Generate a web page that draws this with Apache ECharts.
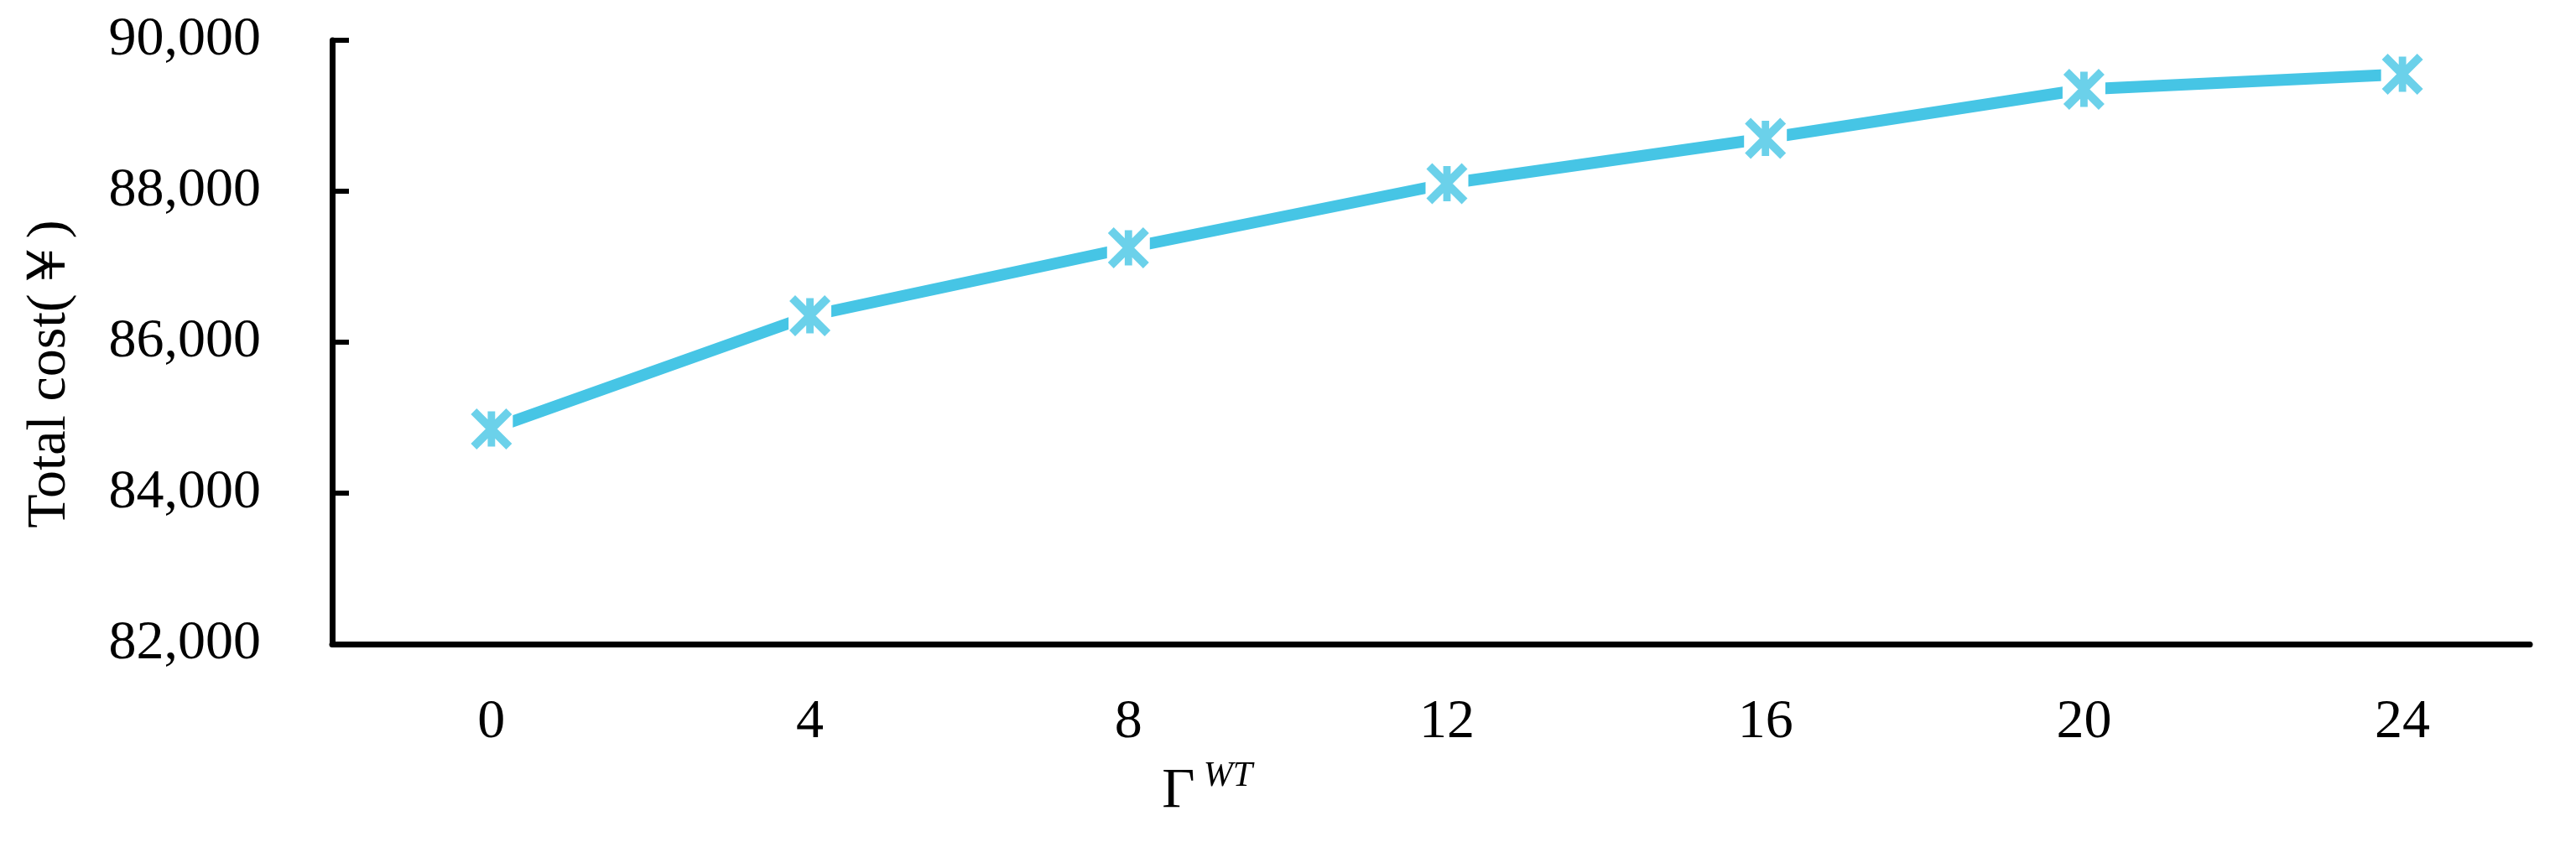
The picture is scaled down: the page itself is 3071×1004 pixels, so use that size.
<!DOCTYPE html>
<html>
<head>
<meta charset="utf-8">
<script src="https://cdn.jsdelivr.net/npm/echarts@6/dist/echarts.min.js"></script>
<style>
  html, body { margin: 0; padding: 0; background: #fff; }
  #chart { width: 3071px; height: 1004px; }
</style>
</head>
<body>
<div id="chart"></div>
<script>
// robustness level of wind output (x) and total cost (y)
const gammaLevels = [0, 4, 8, 12, 16, 20, 24];
const totalCost = [84850, 86350, 87250, 88100, 88700, 89350, 89550];
const yTicks = { min: 82000, max: 90000, step: 2000 };

const lineColor = "#46C5E5";
const serif = "'Liberation Serif', 'Times New Roman', serif";
// asterisk marker: vertical bar + two diagonals
const starPath =
  "path://M41,7L59,7L59,93L41,93Z" +
  "M14.14,0L100,85.86L85.86,100L0,14.14Z" +
  "M85.86,0L100,14.14L14.14,100L0,85.86Z";

const points = gammaLevels.map((g, i) => [g, totalCost[i]]);

let myChart = echarts.init(document.getElementById("chart"));

const option = {
  animation: false,
  backgroundColor: "#fff",
  grid: {
    left: 396,
    right: 55,
    top: 48,
    bottom: 236,
  },
  xAxis: {
    type: "value",
    min: -2,
    max: 25.6,
    splitLine: { show: false },
    axisLine: { show: true, onZero: false, lineStyle: { color: "#000", width: 7 } },
    axisTick: { show: false },
    axisLabel: {
      customValues: gammaLevels,
      margin: 61,
      color: "#000",
      fontFamily: serif,
      fontSize: 66,
    },
  },
  yAxis: {
    type: "value",
    min: yTicks.min,
    max: yTicks.max,
    interval: yTicks.step,
    splitLine: { show: false },
    axisLine: { show: true, onZero: false, lineStyle: { color: "#000", width: 7 } },
    axisTick: {
      show: true,
      inside: true,
      length: 20,
      lineStyle: { color: "#000", width: 6 },
    },
    axisLabel: {
      margin: 85,
      color: "#000",
      fontFamily: serif,
      fontSize: 66,
      formatter: function (v) {
        return v.toLocaleString("en-US");
      },
    },
  },
  graphic: [
    {
      type: "text",
      x: 60,
      y: 446,
      rotation: Math.PI / 2,
      style: {
        text: "Total cost(￥)",
        fill: "#000",
        font: "66px " + serif,
        textAlign: "center",
        textVerticalAlign: "middle",
        align: "center",
        verticalAlign: "middle",
      },
    },
    {
      type: "text",
      x: 1405,
      y: 944,
      style: {
        text: "Γ",
        fill: "#000",
        font: "68px " + serif,
        textAlign: "center",
        textVerticalAlign: "middle",
        align: "center",
        verticalAlign: "middle",
      },
    },
    {
      type: "text",
      x: 1464,
      y: 926,
      style: {
        text: "WT",
        fill: "#000",
        font: "italic 42px " + serif,
        textAlign: "center",
        textVerticalAlign: "middle",
        align: "center",
        verticalAlign: "middle",
      },
    },
  ],
  series: [
    {
      // line with white square behind each point (gap around markers)
      name: "Total cost",
      type: "line",
      data: points,
      symbol: "rect",
      symbolSize: 51,
      showSymbol: true,
      itemStyle: { color: "#fff" },
      lineStyle: { color: lineColor, width: 14 },
      z: 2,
    },
    {
      name: "Total cost marker",
      type: "scatter",
      data: points,
      symbol: starPath,
      symbolSize: 49,
      itemStyle: { color: lineColor },
      z: 3,
    },
  ],
};

myChart.setOption(option, true);
window.addEventListener("resize", function () {
  myChart.resize();
});
</script>
</body>
</html>
